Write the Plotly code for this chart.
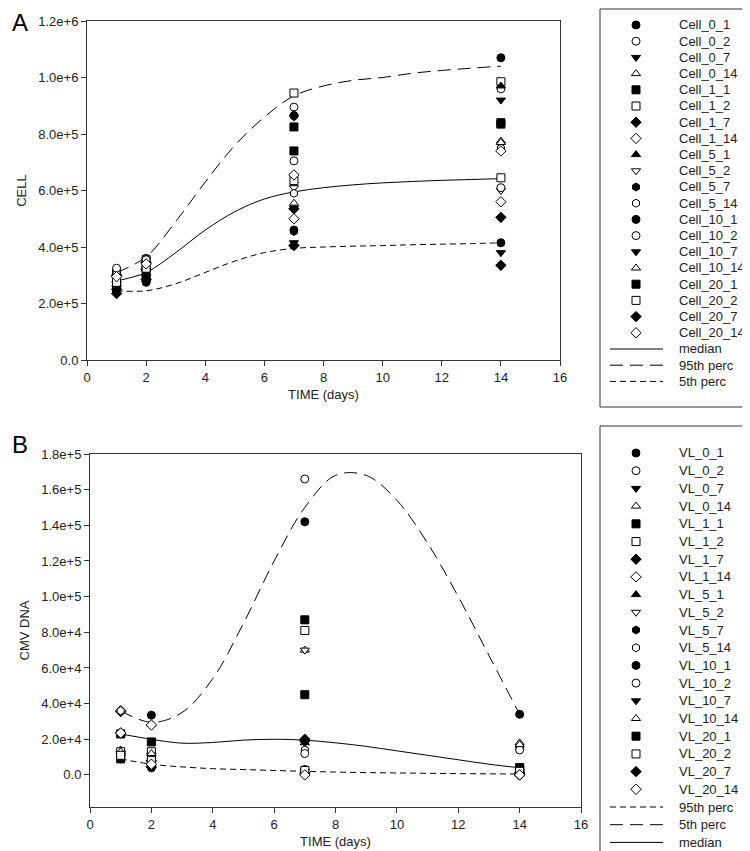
import plotly.graph_objects as go

# ---------------- data ----------------
days = [1, 2, 7, 14]

cell_names = ["Cell_0_1", "Cell_0_2", "Cell_0_7", "Cell_0_14", "Cell_1_1", "Cell_1_2", "Cell_1_7",
              "Cell_1_14", "Cell_5_1", "Cell_5_2", "Cell_5_7", "Cell_5_14", "Cell_10_1", "Cell_10_2",
              "Cell_10_7", "Cell_10_14", "Cell_20_1", "Cell_20_2", "Cell_20_7", "Cell_20_14"]
cell_day1 = [3.2e5, 3.15e5, 2.9e5, 2.7e5, 2.6e5, 3.05e5, 2.5e5, 3.0e5, 2.8e5, 2.95e5,
             2.45e5, 3.1e5, 2.4e5, 3.25e5, 2.55e5, 2.85e5, 2.65e5, 2.75e5, 2.35e5, 2.95e5]
cell_day2 = [3.0e5, 3.6e5, 3.1e5, 3.3e5, 2.9e5, 3.55e5, 3.2e5, 3.45e5, 3.05e5, 3.4e5,
             2.8e5, 3.5e5, 2.75e5, 3.55e5, 2.95e5, 3.35e5, 3.15e5, 3.25e5, 2.85e5, 3.4e5]
cell_day7 = [8.65e5, 8.95e5, 8.6e5, 5.5e5, 8.25e5, 9.45e5, 5.35e5, 5.0e5, 8.7e5, 6.1e5,
             4.55e5, 5.9e5, 4.6e5, 7.05e5, 4.15e5, 5.55e5, 7.4e5, 6.35e5, 4.05e5, 6.55e5]
cell_day14 = [1.07e6, 9.6e5, 9.2e5, 7.75e5, 8.4e5, 9.85e5, 5.05e5, 5.6e5, 9.7e5, 6.0e5,
              8.4e5, 7.5e5, 4.15e5, 6.1e5, 3.8e5, 7.7e5, 8.35e5, 6.45e5, 3.35e5, 7.4e5]

curve_days = [1, 2, 3, 4, 5, 6, 7, 8, 9, 10, 11, 12, 13, 14]
cell_median = [2.8e5, 3.1e5, 3.8e5, 4.6e5, 5.25e5, 5.7e5, 5.95e5, 6.1e5, 6.2e5, 6.27e5, 6.32e5, 6.36e5, 6.39e5, 6.42e5]
cell_p95 = [3.1e5, 3.65e5, 4.9e5, 6.3e5, 7.6e5, 8.6e5, 9.35e5, 9.7e5, 9.9e5, 1.0e6, 1.015e6, 1.025e6, 1.033e6, 1.04e6]
cell_p5 = [2.45e5, 2.45e5, 2.7e5, 3.1e5, 3.5e5, 3.8e5, 3.95e5, 4.0e5, 4.03e5, 4.05e5, 4.08e5, 4.1e5, 4.12e5, 4.15e5]

vl_names = ["VL_0_1", "VL_0_2", "VL_0_7", "VL_0_14", "VL_1_1", "VL_1_2", "VL_1_7", "VL_1_14",
            "VL_5_1", "VL_5_2", "VL_5_7", "VL_5_14", "VL_10_1", "VL_10_2", "VL_10_7", "VL_10_14",
            "VL_20_1", "VL_20_2", "VL_20_7", "VL_20_14"]
vl_day1 = [1.2e4, 1.1e4, 1.0e4, 1.4e4, 2.3e4, 1.3e4, 3.55e4, 3.6e4, 2.3e4, 1.2e4,
           9e3, 3.6e4, 2.3e4, 1.0e4, 1.1e4, 1.3e4, 9e3, 1.1e4, 2.35e4, 2.35e4]
vl_day2 = [3.35e4, 1.2e4, 1.0e4, 2.85e4, 1.85e4, 1.3e4, 8e3, 2.8e4, 6e3, 1.1e4,
           5e3, 8e3, 4e3, 1.0e4, 5e3, 1.2e4, 6e3, 8e3, 4.5e3, 6e3]
vl_day7 = [1.42e5, 1.66e5, 2e3, 7.0e4, 8.7e4, 8.1e4, 2.0e4, 1e3, 1.8e4, 7.0e4,
           1.5e3, 1.4e4, 3e3, 1.2e4, 500, 1.5e3, 4.5e4, 2.5e3, 1.9e4, 0]
vl_day14 = [3.4e4, 1.5e4, 2e3, 1.8e4, 4e3, 3e3, 1e3, 0, 500, 1e3,
            2e3, 500, 3e3, 1.4e4, 0, 1.7e4, 4e3, 2e3, 0, 0]

vl_p95 = [9e3, 6e3, 4.5e3, 3.5e3, 3e3, 2.5e3, 2e3, 1.6e3, 1.3e3, 1.1e3, 900, 700, 600, 500]
vl_p5 = [3.6e4, 2.95e4, 3.5e4, 5.4e4, 8.5e4, 1.2e5, 1.5e5, 1.68e5, 1.68e5, 1.54e5, 1.3e5, 1.0e5, 6.7e4, 3.4e4]
vl_median = [2.3e4, 2.0e4, 1.78e4, 1.82e4, 1.95e4, 2.0e4, 1.95e4, 1.8e4, 1.6e4, 1.35e4, 1.1e4, 8.5e3, 6e3, 4e3]

x_ticks = [0, 2, 4, 6, 8, 10, 12, 14, 16]
cell_ticks = [0, 2e5, 4e5, 6e5, 8e5, 1e6, 1.2e6]
cell_tick_text = ["0.0", "2.0e+5", "4.0e+5", "6.0e+5", "8.0e+5", "1.0e+6", "1.2e+6"]
vl_ticks = [0, 2e4, 4e4, 6e4, 8e4, 1e5, 1.2e5, 1.4e5, 1.6e5, 1.8e5]
vl_tick_text = ["0.0", "2.0e+4", "4.0e+4", "6.0e+4", "8.0e+4", "1.0e+5", "1.2e+5", "1.4e+5", "1.6e+5", "1.8e+5"]

# ---------------- styles ----------------
W, H = 750, 851
FONT = "Arial, Liberation Sans, sans-serif"
TXT = "#222222"
base_syms = [("circle", True), ("circle", False), ("triangle-down", True), ("triangle-up", False),
             ("square", True), ("square", False), ("diamond", True), ("diamond", False),
             ("triangle-up", True), ("triangle-down", False), ("hexagon", True), ("hexagon", False)]
sym_list = base_syms + base_syms[:8]
MS = 8
DASH_LONG = "13px,7px"
DASH_SHORT = "6px,4px"


def dx(a, b):
    return [a / W, b / W]


def dy(top, bottom):
    return [1 - bottom / H, 1 - top / H]


fig = go.Figure()


def add_curve(xs, ys, dash, xa, ya):
    fig.add_trace(go.Scatter(x=xs, y=ys, mode="lines", xaxis=xa, yaxis=ya, showlegend=False,
                             line=dict(color="black", width=1, dash=dash, shape="spline", smoothing=1.0),
                             hoverinfo="skip"))


def marker_style(i):
    s, filled = sym_list[i]
    return dict(symbol=s, size=MS, color="black" if filled else "white",
                line=dict(color="black", width=1))


# Panel A
add_curve(curve_days, cell_median, "solid", "x", "y")
add_curve(curve_days, cell_p95, DASH_LONG, "x", "y")
add_curve(curve_days, cell_p5, DASH_SHORT, "x", "y")
for i, nm in enumerate(cell_names):
    fig.add_trace(go.Scatter(x=days, y=[cell_day1[i], cell_day2[i], cell_day7[i], cell_day14[i]],
                             mode="markers", name=nm, xaxis="x", yaxis="y", showlegend=False,
                             marker=marker_style(i)))

# Panel B
add_curve(curve_days, vl_p95, DASH_SHORT, "x2", "y2")
add_curve(curve_days, vl_p5, DASH_LONG, "x2", "y2")
add_curve(curve_days, vl_median, "solid", "x2", "y2")
for i, nm in enumerate(vl_names):
    fig.add_trace(go.Scatter(x=days, y=[vl_day1[i], vl_day2[i], vl_day7[i], vl_day14[i]],
                             mode="markers", name=nm, xaxis="x2", yaxis="y2", showlegend=False,
                             marker=marker_style(i)))

# ---------------- custom legends ----------------
annotations = []


def build_legend(names, line_items, xa, ya, first, step):
    rows = list(range(len(names) + len(line_items)))
    for i, nm in enumerate(names):
        yy = first + rows[i] * step
        fig.add_trace(go.Scatter(x=[36], y=[yy], mode="markers", xaxis=xa, yaxis=ya, showlegend=False,
                                 marker=marker_style(i), hoverinfo="skip"))
        annotations.append(dict(x=77, y=yy, xref=xa, yref=ya, text=nm, showarrow=False,
                                xanchor="left", yanchor="middle",
                                font=dict(family=FONT, size=13, color=TXT)))
    for j, (lbl, dash) in enumerate(line_items):
        yy = first + rows[len(names) + j] * step
        fig.add_trace(go.Scatter(x=[10, 63], y=[yy, yy], mode="lines", xaxis=xa, yaxis=ya, showlegend=False,
                                 line=dict(color="black", width=1, dash=dash), hoverinfo="skip"))
        annotations.append(dict(x=77, y=yy, xref=xa, yref=ya, text=lbl, showarrow=False,
                                xanchor="left", yanchor="middle",
                                font=dict(family=FONT, size=13, color=TXT)))


build_legend(cell_names, [("median", "solid"), ("95th perc", DASH_LONG), ("5th perc", DASH_SHORT)],
             "x3", "y3", 16, 16.2)
build_legend(vl_names, [("95th perc", DASH_SHORT), ("5th perc", DASH_LONG), ("median", "solid")],
             "x4", "y4", 27, 17.7)

# panel letters
annotations.append(dict(x=2 / W, y=1 - 14 / H, xref="paper", yref="paper", text="A", showarrow=False,
                        xanchor="left", yanchor="middle", font=dict(family=FONT, size=24, color="black")))
annotations.append(dict(x=2 / W, y=1 - 436 / H, xref="paper", yref="paper", text="B", showarrow=False,
                        xanchor="left", yanchor="middle", font=dict(family=FONT, size=24, color="black")))

axis_common = dict(showline=True, linecolor="#333333", linewidth=1, mirror=True, ticks="outside",
                   ticklen=5, tickcolor="#333333", showgrid=False, zeroline=False,
                   tickfont=dict(family=FONT, size=13, color=TXT), automargin=False)

legend_axis = dict(visible=False, showgrid=False, zeroline=False, fixedrange=True)

fig.update_layout(
    width=W, height=H, margin=dict(l=0, r=0, t=0, b=0),
    paper_bgcolor="white", plot_bgcolor="white", showlegend=False,
    xaxis=dict(domain=dx(79, 552), range=[0, 16], tickvals=x_ticks, anchor="y",
               title=dict(text="TIME (days)", font=dict(family=FONT, size=13, color=TXT), standoff=6),
               **axis_common),
    yaxis=dict(domain=dy(13, 352), range=[0, 1.2e6], tickvals=cell_ticks, ticktext=cell_tick_text, anchor="x",
               title=dict(text="CELL", font=dict(family=FONT, size=13, color=TXT), standoff=8),
               **axis_common),
    xaxis2=dict(domain=dx(82, 573), range=[0, 16], tickvals=x_ticks, anchor="y2",
                title=dict(text="TIME (days)", font=dict(family=FONT, size=13, color=TXT), standoff=6),
                **axis_common),
    yaxis2=dict(domain=dy(446, 799), range=[-1.8e4, 1.8e5], tickvals=vl_ticks, ticktext=vl_tick_text,
                anchor="x2",
                title=dict(text="CMV DNA", font=dict(family=FONT, size=13, color=TXT), standoff=8),
                **axis_common),
    xaxis3=dict(domain=dx(592, 748), range=[0, 156], anchor="y3", **legend_axis),
    yaxis3=dict(domain=dy(1, 399), range=[398, 0], anchor="x3", **legend_axis),
    xaxis4=dict(domain=dx(592, 748), range=[0, 156], anchor="y4", **legend_axis),
    yaxis4=dict(domain=dy(418, 849), range=[431, 0], anchor="x4", **legend_axis),
    annotations=annotations,
    shapes=[
        dict(type="rect", xref="x3 domain", yref="y3 domain", x0=0, x1=1, y0=0, y1=1,
             line=dict(color="#333333", width=1)),
        dict(type="rect", xref="x4 domain", yref="y4 domain", x0=0, x1=1, y0=0, y1=1,
             line=dict(color="#333333", width=1)),
    ],
)

fig.write_html("out.html")
